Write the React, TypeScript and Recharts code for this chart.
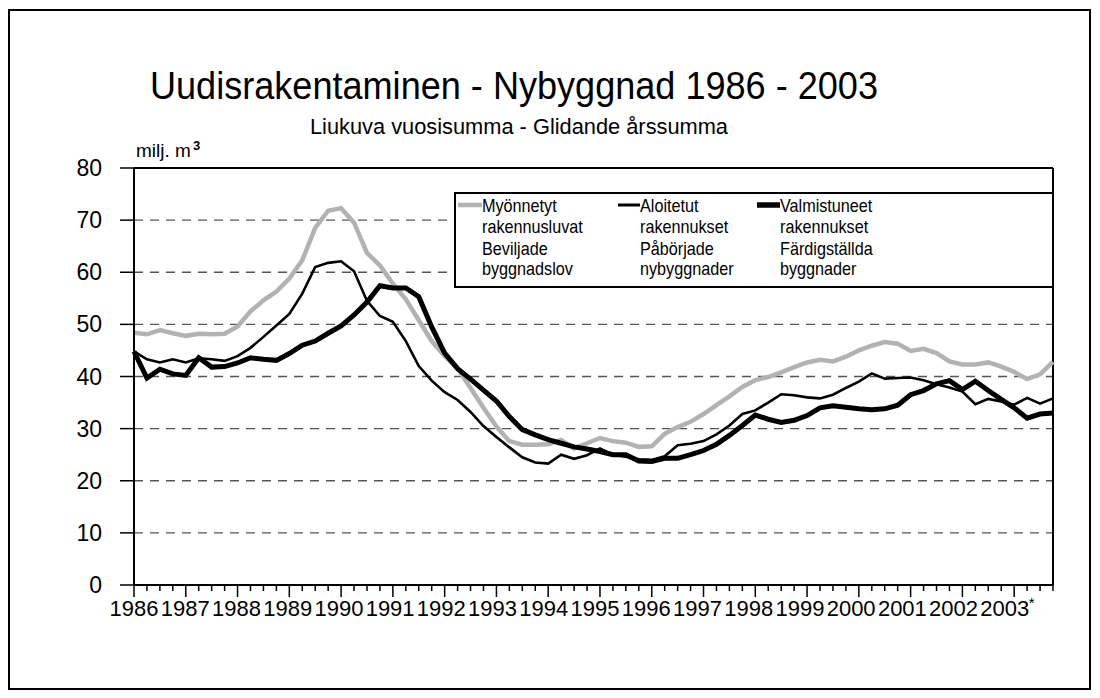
import React from 'react';
import { LineChart, Line, XAxis, YAxis, CartesianGrid, ReferenceLine, Legend } from 'recharts';

// ---------- DATA ----------
const startYear = 1986;
const endValue = 2003.75;
const yearLabels = ['1986', '1987', '1988', '1989', '1990', '1991', '1992', '1993', '1994', '1995', '1996', '1997', '1998', '1999', '2000', '2001', '2002', '2003*'];
const yTicks = [0, 10, 20, 30, 40, 50, 60, 70, 80];
const gridValues = [10, 20, 30, 40, 50, 60, 70];

// Myönnetyt rakennusluvat / Beviljade byggnadslov (quarterly, 1986Q1 .. 2003Q4)
const permits = [
  48.4, 48.1, 48.9, 48.3, 47.8, 48.2, 48.1, 48.2,
  49.6, 52.5, 54.6, 56.3, 58.8, 62.3, 68.5, 71.8,
  72.3, 69.5, 63.7, 61.3, 57.8, 54.8, 50.8, 46.8,
  43.9, 41.6, 37.8, 34.0, 30.4, 27.6, 26.9, 26.9,
  27.0, 27.8, 26.2, 27.2, 28.2, 27.6, 27.3, 26.5,
  26.6, 29.0, 30.3, 31.3, 32.8, 34.5, 36.2, 38.0,
  39.3, 39.9, 40.8, 41.8, 42.7, 43.2, 42.9, 43.8,
  45.0, 45.9, 46.6, 46.3, 44.9, 45.3, 44.5, 42.9,
  42.3, 42.3, 42.7, 41.9, 40.9, 39.5, 40.4, 42.8,
];

// Aloitetut rakennukset / Påbörjade nybyggnader
const starts = [
  44.8, 43.3, 42.7, 43.3, 42.7, 43.5, 43.3, 43.0,
  43.9, 45.5, 47.6, 49.8, 52.0, 55.9, 61.0, 61.8,
  62.1, 60.2, 54.5, 51.6, 50.5, 46.8, 42.0, 39.2,
  37.0, 35.5, 33.2, 30.5, 28.4, 26.4, 24.5, 23.5,
  23.3, 25.0, 24.2, 24.9, 26.2, 25.0, 24.6, 24.1,
  24.0, 24.7, 26.8, 27.1, 27.6, 28.9, 30.6, 32.8,
  33.5, 35.0, 36.6, 36.4, 36.0, 35.8, 36.5, 37.8,
  39.0, 40.6, 39.6, 39.7, 39.8, 39.3, 38.5, 37.9,
  37.1, 34.7, 35.7, 35.2, 34.6, 35.9, 34.8, 35.8,
];

// Valmistuneet rakennukset / Färdigställda byggnader
const completed = [
  44.8, 39.7, 41.4, 40.5, 40.2, 43.6, 41.8, 41.9,
  42.6, 43.6, 43.3, 43.1, 44.4, 46.0, 46.8, 48.3,
  49.7, 51.8, 54.3, 57.4, 57.0, 57.0, 55.3, 49.5,
  44.5, 41.5, 39.5, 37.4, 35.3, 32.3, 29.8, 28.8,
  27.9, 27.2, 26.5, 26.1, 25.6, 25.0, 25.0, 23.8,
  23.7, 24.3, 24.3, 25.0, 25.8, 27.0, 28.7, 30.6,
  32.6, 31.8, 31.2, 31.6, 32.5, 34.0, 34.4, 34.1,
  33.8, 33.6, 33.8, 34.5, 36.5, 37.3, 38.6, 39.2,
  37.5, 39.1, 37.3, 35.6, 34.0, 32.0, 32.8, 33.0,
];

const legendLabels = [
  ['Myönnetyt', 'rakennusluvat', 'Beviljade', 'byggnadslov'],
  ['Aloitetut', 'rakennukset', 'Påbörjade', 'nybyggnader'],
  ['Valmistuneet', 'rakennukset', 'Färdigställda', 'byggnader'],
];

const titleText = 'Uudisrakentaminen - Nybyggnad 1986 - 2003';
const subtitleText = 'Liukuva vuosisumma - Glidande årssumma';
const unitText = 'milj. m';

// ---------- derived ----------
const quarterTimes = permits.map((_, i) => startYear + i / 4);
const data = quarterTimes.map((t, i) => ({
  t,
  permits: permits[i],
  starts: starts[i],
  completed: completed[i],
}));

const FONT = '"Liberation Sans", Arial, Helvetica, sans-serif';
const GRAY = '#b2b2b2';

const XTick = (props: any) => {
  const { x, y, payload } = props;
  const v = payload.value as number;
  const major = Math.abs(v - Math.round(v)) < 1e-6;
  const idx = Math.round(v) - startYear;
  const label = major ? yearLabels[idx] : null;
  const star = label && label.endsWith('*');
  const txt = label ? label.replace('*', '') : '';
  const lx = x - idx * 0.55;
  return (
    <g>
      <line x1={x} x2={x} y1={y} y2={y + (major ? 12 : 6)} stroke="#000" strokeWidth={1.5} />
      {label && (
        <text x={lx} y={y + 31} textAnchor="middle" fontSize={22} fontFamily={FONT} fill="#000">
          {txt}
        </text>
      )}
      {star && (
        <text x={lx + 24} y={y + 23} fontSize={15} fontFamily={FONT} fill="#000">
          *
        </text>
      )}
    </g>
  );
};

const YTick = (props: any) => {
  const { x, y, payload } = props;
  return (
    <text x={x} y={y + 8} textAnchor="end" fontSize={23} fontFamily={FONT} fill="#000">
      {payload.value}
    </text>
  );
};

const colX = [4, 164, 303];
const sampleW = [24, 22, 23];
const sampleStroke = [GRAY, '#000', '#000'];
const sampleWidth = [4.5, 3, 5.5];
const rowBase = [19.5, 41, 62.5, 83];

const LegendBox = () => (
  <svg width={601} height={97} style={{ display: 'block' }}>
    <rect x={1} y={1} width={598} height={94} fill="#fff" stroke="#000" strokeWidth={2} />
    {legendLabels.map((lines, c) => (
      <g key={c}>
        <line
          x1={colX[c]}
          x2={colX[c] + sampleW[c]}
          y1={13}
          y2={13}
          stroke={sampleStroke[c]}
          strokeWidth={sampleWidth[c]}
        />
        {lines.map((ln, r) => (
          <text
            key={r}
            transform={`translate(${colX[c] + sampleW[c]},${rowBase[r]}) scale(0.9,1)`}
            fontSize={18}
            fontFamily={FONT}
            fill="#000"
          >
            {ln}
          </text>
        ))}
      </g>
    ))}
  </svg>
);

export default function App() {
  return (
    <div style={{ position: 'absolute', left: 0, top: 0, width: 1100, height: 698, background: '#fff' }}>
      <svg width={1100} height={698} style={{ position: 'absolute', left: 0, top: 0 }}>
        <rect x={9} y={10} width={1081} height={679} fill="#fff" stroke="#000" strokeWidth={2} />
        <text x={150} y={99} fontSize={38} fontFamily={FONT} textLength={728} lengthAdjust="spacingAndGlyphs" fill="#000">
          {titleText}
        </text>
        <text x={310} y={134} fontSize={22} fontFamily={FONT} textLength={418} lengthAdjust="spacingAndGlyphs" fill="#000">
          {subtitleText}
        </text>
        <text x={136} y={157} fontSize={19} fontFamily={FONT} fill="#000">
          {unitText}
        </text>
        <text x={193} y={150} fontSize={13} fontWeight="bold" fontFamily={FONT} fill="#000">
          3
        </text>
      </svg>
      <div style={{ position: 'absolute', left: 0, top: 0 }}>
        <LineChart
          width={1100}
          height={698}
          data={data}
          margin={{ top: 168, right: 47, bottom: 73, left: 0 }}
        >
          <CartesianGrid
            horizontal
            vertical={false}
            horizontalValues={gridValues}
            stroke="#555"
            strokeWidth={1.3}
            strokeDasharray="9 7"
          />
          <XAxis
            dataKey="t"
            type="number"
            domain={[startYear, endValue]}
            ticks={quarterTimes}
            interval={0}
            tickLine={false}
            tickSize={0}
            tickMargin={0}
            height={40}
            axisLine={{ stroke: '#000', strokeWidth: 2 }}
            tick={<XTick />}
          />
          <YAxis
            type="number"
            domain={[0, 80]}
            ticks={yTicks}
            interval={0}
            width={134}
            tickSize={14}
            tickMargin={18}
            tickLine={{ stroke: '#000', strokeWidth: 1.5 }}
            axisLine={{ stroke: '#000', strokeWidth: 2 }}
            tick={<YTick />}
          />
          <ReferenceLine y={80} stroke="#000" strokeWidth={2} />
          <ReferenceLine x={endValue} stroke="#000" strokeWidth={2} />
          <Legend
            layout="horizontal"
            verticalAlign="middle"
            align="center"
            wrapperStyle={{ position: 'absolute', left: 454, top: 192, width: 601, height: 97 }}
            content={() => <LegendBox />}
          />
          <Line
            type="linear"
            dataKey="permits"
            stroke={GRAY}
            strokeWidth={4.5}
            dot={false}
            isAnimationActive={false}
          />
          <Line
            type="linear"
            dataKey="starts"
            stroke="#000"
            strokeWidth={2.6}
            dot={false}
            isAnimationActive={false}
          />
          <Line
            type="linear"
            dataKey="completed"
            stroke="#000"
            strokeWidth={5}
            dot={false}
            isAnimationActive={false}
          />
        </LineChart>
      </div>
    </div>
  );
}
